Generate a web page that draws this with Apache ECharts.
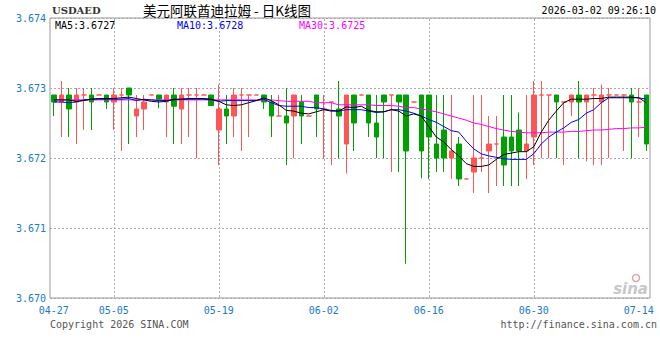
<!DOCTYPE html>
<html>
<head>
<meta charset="utf-8">
<script src="https://cdn.jsdelivr.net/npm/echarts@6/dist/echarts.min.js"></script>
<style>html,body{margin:0;padding:0;background:#fff;}#c{width:660px;height:360px;}</style>
</head>
<body>
<div id="c"></div>
<script>
const dates = ['04-27','04-28','04-29','04-30',
'05-01','05-02','05-03','05-04','05-05','05-06','05-07','05-08','05-09','05-10','05-11','05-12','05-13','05-14','05-15','05-16','05-17','05-18','05-19','05-20','05-21','05-22','05-23','05-24','05-25','05-26','05-27','05-28','05-29','05-30','05-31',
'06-01','06-02','06-03','06-04','06-05','06-06','06-07','06-08','06-09','06-10','06-11','06-12','06-13','06-14','06-15','06-16','06-17','06-18','06-19','06-20','06-21','06-22','06-23','06-24','06-25','06-26','06-27','06-28','06-29','06-30',
'07-01','07-02','07-03','07-04','07-05','07-06','07-07','07-08','07-09','07-10','07-11','07-12','07-13','07-14','07-15'];
const tickLabels = ['04-27','05-05','05-19','06-02','06-16','06-30','07-14'];
const gridDates = ['05-05','05-19','06-02','06-16','06-30'];
const yTicks = [3.670, 3.674, 0.001];

const opens = [3.6729,3.6728,3.6729,3.6728,3.6729,3.6729,3.6729,3.6729,3.6728,3.6729,
3.6730,3.6726,3.6727,3.6729,3.6729,3.6728,3.6729,3.6727,3.6729,3.6729,
3.6729,3.6729,3.6724,3.6727,3.6726,3.6729,3.6729,3.6729,3.6729,3.6728,
3.6726,3.6726,3.6726,3.6728,3.6726,3.6729,3.6727,3.6728,3.6727,3.6722,
3.6729,3.6729,3.6729,3.6725,3.6729,3.6729,3.6729,3.6729,3.6728,3.6729,
3.6729,3.6722,3.6724,3.6720,3.6722,3.6717,3.6718,3.6720,3.6721,3.6722,
3.6723,3.6723,3.6724,3.6721,3.6723,3.6729,3.6729,3.6729,3.6728,3.6728,
3.6729,3.6728,3.6729,3.6728,3.6729,3.6729,3.6729,3.6729,3.6728,3.6729];
const closes = [3.6728,3.6729,3.6727,3.6729,3.6729,3.6728,3.6729,3.6728,3.6729,3.6729,
3.6729,3.6727,3.6728,3.6729,3.67284,3.6729,3.67274,3.6729,3.6729,3.6729,
3.6729,3.67275,3.6727,3.6726,3.6729,3.6729,3.6729,3.6729,3.6728,3.6726,
3.6726,3.6725,3.6729,3.6726,3.6726,3.6727,3.6727,3.6728,3.6726,3.6729,
3.6725,3.6729,3.6725,3.6723,3.6728,3.6729,3.6728,3.6721,3.6728,3.6721,
3.6723,3.6720,3.6720,3.6721,3.6717,3.6717,3.6720,3.6720,3.6722,3.6722,
3.6719,3.6721,3.6721,3.6722,3.6729,3.6729,3.6729,3.6728,3.6728,3.6729,
3.6728,3.6729,3.6729,3.6729,3.6729,3.6729,3.6729,3.6728,3.6728,3.6722];
const lows = [3.6726,3.6723,3.6723,3.6722,3.6724,3.6724,3.6729,3.6727,3.6724,3.6721,
3.6722,3.6723,3.6724,3.6729,3.67271,3.6723,3.6722,3.6722,3.6723,3.6720,
3.6729,3.67275,3.6719,3.6722,3.6723,3.6721,3.6723,3.6729,3.6727,3.6723,
3.6726,3.6719,3.6720,3.6722,3.6726,3.6723,3.6720,3.6719,3.6720,3.67178,
3.6721,3.6729,3.6723,3.6720,3.6720,3.6718,3.6718,3.67049,3.6728,3.67171,
3.6717,3.6718,3.6718,3.6717,3.6716,3.6717,3.6715,3.6718,3.6715,3.6716,
3.6716,3.6716,3.6716,3.6717,3.6719,3.6720,3.6720,3.6720,3.6719,3.6726,
3.6720,3.67195,3.6719,3.6719,3.6720,3.6729,3.6721,3.6720,3.6723,3.6721];
const highs = [3.6729,3.6731,3.6730,3.6730,3.6730,3.6730,3.6729,3.6729,3.6730,3.6730,
3.6730,3.6729,3.6729,3.6729,3.6729,3.6729,3.6730,3.6730,3.6730,3.6730,
3.6729,3.6729,3.67305,3.6729,3.6730,3.6730,3.6729,3.6729,3.6729,3.6729,
3.6729,3.6730,3.6729,3.6729,3.6726,3.6729,3.6729,3.6728,3.6731,3.6729,
3.6729,3.6729,3.6729,3.6729,3.6729,3.6729,3.6729,3.6729,3.6728,3.6729,
3.6729,3.6729,3.6729,3.6729,3.6723,3.6717,3.6729,3.6729,3.6726,3.6726,
3.6729,3.6729,3.67265,3.6729,3.6731,3.6731,3.6729,3.6729,3.6728,3.6729,
3.6731,3.6729,3.6730,3.67305,3.6730,3.6729,3.6729,3.6730,3.6730,3.6729];

const ma5 = [3.67283,3.67283,3.67283,3.67281,3.67282,3.67284,3.67285,3.67285,3.67285,3.67286,
3.67287,3.67285,3.67283,3.67281,3.67280,3.67281,3.67284,3.67284,3.67285,3.67285,
3.67285,3.67284,3.67281,3.67276,3.67275,3.67276,3.67279,3.67282,3.67286,3.67282,
3.67276,3.67268,3.67267,3.67264,3.67263,3.67266,3.67269,3.67267,3.67267,3.67273,
3.67272,3.67274,3.67268,3.67266,3.67266,3.67269,3.67267,3.67260,3.67263,3.67260,
3.67245,3.67230,3.67223,3.67212,3.67203,3.67192,3.67188,3.67188,3.67190,3.67198,
3.67205,3.67207,3.67209,3.67209,3.67216,3.67237,3.67254,3.67267,3.67279,3.67284,
3.67284,3.67284,3.67285,3.67285,3.67287,3.67287,3.67287,3.67287,3.67286,3.67279];
const ma10 = [3.67280,3.67280,3.67279,3.67280,3.67283,3.67284,3.67284,3.67284,3.67284,3.67284,
3.67285,3.67282,3.67284,3.67283,3.67282,3.67282,3.67283,3.67284,3.67284,3.67284,
3.67284,3.67283,3.67281,3.67282,3.67282,3.67282,3.67282,3.67282,3.67284,3.67279,
3.67275,3.67274,3.67274,3.67274,3.67272,3.67272,3.67270,3.67268,3.67267,3.67269,
3.67269,3.67269,3.67267,3.67265,3.67266,3.67269,3.67269,3.67267,3.67264,3.67260,
3.67255,3.67251,3.67245,3.67239,3.67237,3.67224,3.67213,3.67206,3.67203,3.67201,
3.67199,3.67198,3.67198,3.67198,3.67206,3.67220,3.67230,3.67237,3.67243,3.67251,
3.67255,3.67264,3.67269,3.67279,3.67286,3.67286,3.67286,3.67286,3.67286,3.67284];
const ma30 = [3.67283,3.67283,3.67283,3.67283,3.67283,3.67283,3.67283,3.67283,3.67283,3.67283,
3.67283,3.67283,3.67283,3.67283,3.67283,3.67283,3.67283,3.67283,3.67283,3.67283,
3.67283,3.67283,3.67283,3.67283,3.67283,3.67283,3.67283,3.67283,3.67283,3.67283,
3.67282,3.67281,3.67281,3.67281,3.67281,3.67279,3.67279,3.67279,3.67276,3.67276,
3.67276,3.67276,3.67276,3.67275,3.67275,3.67275,3.67274,3.67272,3.67272,3.67270,
3.67268,3.67266,3.67263,3.67260,3.67257,3.67254,3.67250,3.67248,3.67245,3.67242,
3.67240,3.67238,3.67237,3.67236,3.67236,3.67236,3.67237,3.67237,3.67237,3.67238,
3.67238,3.67239,3.67240,3.67240,3.67241,3.67242,3.67242,3.67243,3.67243,3.67244];

const maLabels = ['MA5:3.6727','MA10:3.6728','MA30:3.6725'];
const titleText = ['USDAED','美元阿联酋迪拉姆 - 日K线图','2026-03-02 09:26:10'];
const footText = ['Copyright 2026 SINA.COM','http://finance.sina.com.cn'];

const UP = '#ff5555', DOWN = '#00a000', BLUE = '#1a7ad0';
const MONO = 'DejaVu Sans Mono';
const kdata = opens.map((o, i) => [o, closes[i], lows[i], highs[i]]);

const textGraphics = [
  {type: 'text', x: 52, y: 10, style: {text: titleText[0], font: 'bold 10px "DejaVu Serif"', fill: '#333', textVerticalAlign: 'middle'}},
  {type: 'text', x: 143, y: 10, style: {text: titleText[1], font: '13.5px "Noto Sans CJK SC"', fill: '#000', textVerticalAlign: 'middle'}},
  {type: 'text', x: 656, y: 10, style: {text: titleText[2], font: '10px "DejaVu Sans Mono"', fill: '#000', textAlign: 'right', textVerticalAlign: 'middle'}},
  {type: 'text', x: 55, y: 25, style: {text: maLabels[0], font: '10px "DejaVu Sans Mono"', fill: '#000', textVerticalAlign: 'middle'}},
  {type: 'text', x: 177, y: 25, style: {text: maLabels[1], font: '10px "DejaVu Sans Mono"', fill: '#0000ff', textVerticalAlign: 'middle'}},
  {type: 'text', x: 299, y: 25, style: {text: maLabels[2], font: '10px "DejaVu Sans Mono"', fill: '#ff00ff', textVerticalAlign: 'middle'}},
  {type: 'text', x: 50, y: 324, style: {text: footText[0], font: '10px "DejaVu Sans Mono"', fill: '#555', textVerticalAlign: 'middle'}},
  {type: 'text', x: 657, y: 324, style: {text: footText[1], font: '10px "DejaVu Sans Mono"', fill: '#555', textAlign: 'right', textVerticalAlign: 'middle'}},
  {type: 'text', x: 648, y: 289, style: {text: 'sina', font: 'italic bold 15px "DejaVu Sans"', fill: '#c8c8c8', textAlign: 'right', textVerticalAlign: 'middle'}},
  {type: 'circle', shape: {cx: 636, cy: 278, r: 3.5}, style: {fill: 'none', stroke: '#e6a3a3', lineWidth: 1.5}}
];

const chart = echarts.init(document.getElementById('c'), null, {renderer: 'svg'});
const option = {
  animation: false,
  backgroundColor: '#ffffff',
  grid: {left: 50, right: 10, top: 18, bottom: 62, show: true, borderColor: '#999', borderWidth: 1},
  xAxis: {
    type: 'category', data: dates, boundaryGap: true,
    axisLine: {show: false}, axisTick: {show: false},
    axisLabel: {interval: (i, v) => tickLabels.includes(v), color: BLUE, fontFamily: MONO, fontSize: 10, margin: 7},
    splitLine: {show: false}
  },
  yAxis: {
    type: 'value', min: yTicks[0], max: yTicks[1], interval: yTicks[2], scale: true,
    axisLine: {show: false}, axisTick: {show: false},
    axisLabel: {formatter: v => v.toFixed(3), color: BLUE, fontFamily: MONO, fontSize: 10, margin: 4},
    splitLine: {show: true, lineStyle: {type: [2, 2], color: '#aaa', width: 1}}
  },
  series: [
    {type: 'candlestick', data: kdata, barWidth: 5, z: 2,
     itemStyle: {color: UP, color0: DOWN, borderColor: UP, borderColor0: DOWN, borderColorDoji: UP, borderWidth: 1}},
    {type: 'line', data: ma30, symbol: 'none', lineStyle: {color: '#ff00ff', width: 1}, z: 3},
    {type: 'line', data: ma10, symbol: 'none', lineStyle: {color: '#0000ff', width: 1}, z: 4},
    {type: 'line', data: ma5, symbol: 'none', lineStyle: {color: '#000000', width: 1}, z: 5}
  ],
  graphic: textGraphics
};
chart.setOption(option);

// dotted vertical date grid lines, positioned through the category axis scale
const yTop = Math.round(chart.convertToPixel({yAxisIndex: 0}, yTicks[1]));
const yBot = Math.round(chart.convertToPixel({yAxisIndex: 0}, yTicks[0]));
const gridGraphics = [];
gridDates.forEach(d => {
  const x = Math.round(chart.convertToPixel({xAxisIndex: 0}, d));
  for (let y = yTop + 1; y < yBot; y += 4) {
    gridGraphics.push({type: 'rect', z: -1, silent: true,
      shape: {x: x, y: y, width: 1, height: 2},
      style: {fill: '#aaa'}});
  }
});
chart.setOption({graphic: textGraphics.concat(gridGraphics)});
</script>
</body>
</html>
